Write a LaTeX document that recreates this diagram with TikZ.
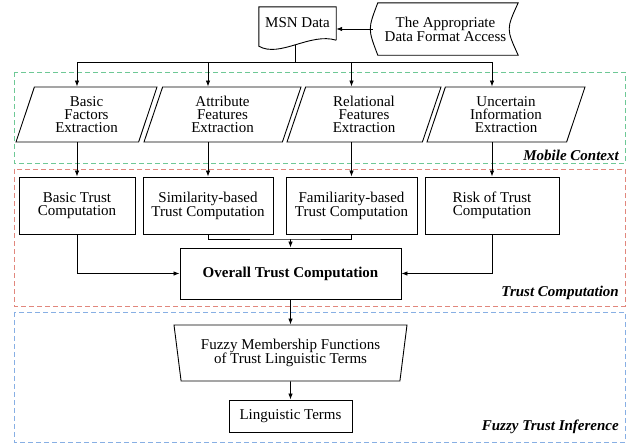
\documentclass[tikz,border=0pt]{standalone}
\usepackage{fontspec}
\setmainfont{Liberation Serif}
\usetikzlibrary{shapes.geometric,arrows.meta,calc}
\definecolor{ctxgreen}{RGB}{110,200,150}
\definecolor{trustred}{RGB}{225,135,125}
\definecolor{fuzzyblue}{RGB}{135,175,228}

\begin{document}
\begin{tikzpicture}[x=1pt,y=-1pt,
    txt/.style={font=\fontsize{15}{13}\selectfont, align=center, inner sep=0pt},
    procbox/.style={txt, draw, line width=0.9pt, minimum height=57},
    iobox/.style={txt, draw, line width=0.9pt, trapezium, trapezium left angle=63,
        trapezium right angle=117, trapezium stretches body=true, minimum height=55},
    arr/.style={-{Latex[length=6pt,width=4.5pt]}, line width=0.8pt},
    zone/.style={dash pattern=on 5pt off 3pt, line width=0.9pt},
    zonelabel/.style={font=\fontsize{15}{15}\selectfont\bfseries\itshape, anchor=east, inner sep=0pt}]
    \useasboundingbox (0,0) rectangle (637,445);

    % the three layers
    \draw[zone, ctxgreen] (14,72) rectangle (625,163);
    \draw[zone, trustred] (14,169) rectangle (625,306);
    \draw[zone, fuzzyblue] (14,312) rectangle (625,442);
    \node[zonelabel] (mc) at (619,155) {Mobile Context};
    \node[zonelabel] (tc) at (619,293) {Trust Computation};
    \node[zonelabel] (fti) at (619,427) {Fuzzy Trust Inference};

    % data sources
    \node[txt, minimum width=77, minimum height=32] (msn) at (297.5,23) {MSN Data};
    \draw[line width=0.9pt] ($(msn.south east)+(0,1)$) -- (msn.north east) -- (msn.north west)
        -- ($(msn.south west)+(0,7)$) .. controls +(21,12) and +(-26,-8) .. ($(msn.south east)+(0,1)$)
        coordinate[pos=.5] (wv);
    \node[txt, minimum width=145, minimum height=52] (fmt) at (445.5,29) {The Appropriate\\Data Format Access};
    \draw[line width=0.9pt] ([xshift=5pt]fmt.north west) -- (fmt.north east)
        .. controls ([xshift=-12pt]fmt.east) .. (fmt.south east) -- ([xshift=5pt]fmt.south west)
        .. controls ([xshift=-5pt]fmt.west) .. ([xshift=5pt]fmt.north west) -- cycle;
    \draw[arr] (fmt.west) -- (fmt.west -| msn.east);

    % mobile context
    \node[iobox, minimum width=141] (bfe) at (86.5,114.5) {Basic\\Factors\\Extraction};
    \node[iobox, minimum width=157] (afe) at (222.5,114.5) {Attribute\\Features\\Extraction};
    \node[iobox, minimum width=154] (rfe) at (364,114.5) {Relational\\Features\\Extraction};
    \node[iobox, minimum width=158] (uie) at (506,114.5) {Uncertain\\Information\\Extraction};

    % trust computation
    \node[procbox, minimum width=116] (btc) at (77,205.5) {Basic Trust\\Computation};
    \node[procbox, minimum width=130] (stc) at (208,205.5) {Similarity-based\\Trust Computation};
    \node[procbox, minimum width=131] (ftc) at (351.5,205.5) {Familiarity-based\\Trust Computation};
    \node[procbox, minimum width=134] (rtc) at (492,205.5) {Risk of Trust\\Computation};
    \node[procbox, font=\fontsize{15}{13}\selectfont\bfseries, minimum width=221, minimum height=51]
        (otc) at (290.5,273.5) {Overall Trust Computation};

    % fuzzy trust inference
    \node[txt, draw, line width=0.9pt, trapezium, trapezium left angle=104, trapezium right angle=104,
        trapezium stretches body=true, minimum width=233, minimum height=56]
        (fmf) at (290.5,353) {Fuzzy Membership Functions\\of Trust Linguistic Terms};
    \node[procbox, minimum width=123, minimum height=32] (lt) at (290.5,416) {Linguistic Terms};

    % connectors
    \coordinate (busy) at (0,62);
    \coordinate (bus) at (wv |- busy);
    \draw[line width=0.8pt] (wv) -- (bus);
    \foreach \p/\b in {bfe/btc, afe/stc, rfe/ftc, uie/rtc} {
        \draw[arr] (bus) -| (\b.north |- \p.north);
        \draw[arr] (\b.north |- \p.south) -- (\b.north);
    }
    \coordinate (mrgy) at (0,239);
    \coordinate (mrg) at (otc.north |- mrgy);
    \draw[line width=0.8pt] (stc.south) |- (mrg) -| (ftc.south);
    \draw[arr] (mrg) -- (otc.north);
    \draw[arr] (btc.south) |- (otc.west);
    \draw[arr] (rtc.south) |- (otc.east);
    \draw[arr] (otc.south) -- (fmf.north);
    \draw[arr] (fmf.south) -- (lt.north);
\end{tikzpicture}
\end{document}
